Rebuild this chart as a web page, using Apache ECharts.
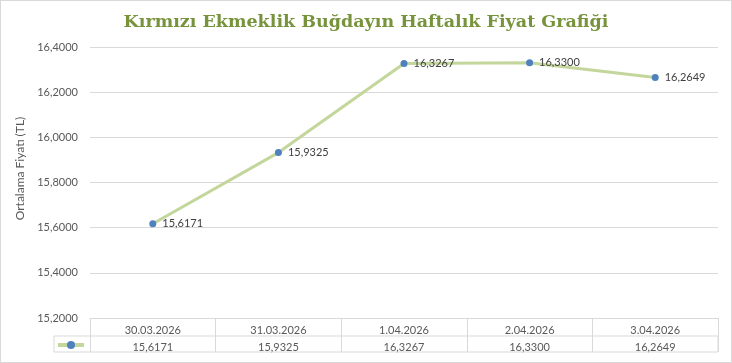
<!DOCTYPE html>
<html><head><meta charset="utf-8">
<script src="https://cdn.jsdelivr.net/npm/echarts@6/dist/echarts.min.js"></script>
<style>html,body{margin:0;padding:0;background:#fff}
#c{width:732px;height:363px;box-sizing:border-box;border:1px solid #d9d9d9;}</style>
</head><body><div id="c"></div>
<script>
const categories = ['30.03.2026','31.03.2026','1.04.2026','2.04.2026','3.04.2026'];
const prices = [15.6171, 15.9325, 16.3267, 16.3300, 16.2649];
const seriesName = 'Ortalama Fiyat';
const fmt = v => v.toFixed(4).replace('.', ',');
const font = 'Lato, "Open Sans", sans-serif';
const chart = echarts.init(document.getElementById('c'), null, {renderer:'canvas'});
chart.setOption({
  animation:false,
  title:{text:'Kırmızı Ekmeklik Buğdayın Haftalık Fiyat Grafiği', left:'center', top:7,
    textStyle:{fontFamily:'"DejaVu Serif", serif', fontWeight:'bold', fontSize:17.5, color:'#77933c'}},
  legend:{data:[seriesName], left:51, top:336, itemWidth:26, itemHeight:10, formatter:()=>'', itemGap:0, padding:[3,4],
    lineStyle:{width:4}},
  grid:[
    {left:89, right:13, top:46, bottom:44},
    {left:53, right:13, top:335, height:16, show:true, borderColor:'#d9d9d9', borderWidth:1, backgroundColor:'transparent'}
  ],
  xAxis:[
    {type:'category', data:categories, gridIndex:0, boundaryGap:true,
     axisLine:{lineStyle:{color:'#d9d9d9'}},
     axisTick:{show:true, length:34, lineStyle:{color:'#d9d9d9'}},
     axisLabel:{margin:4, interval:0, formatter:(v,i)=>'{c|'+v+'}\n{v|'+fmt(prices[i])+'}',
       rich:{c:{fontFamily:font, fontSize:11, color:'#595959', lineHeight:17},
             v:{fontFamily:font, fontSize:11, color:'#595959', lineHeight:17}}}},
    {type:'category', data:[''], gridIndex:1, show:false}
  ],
  yAxis:[
    {type:'value', min:15.2, max:16.4, interval:0.2, gridIndex:0,
     name:'Ortalama Fiyatı (TL)', nameLocation:'middle', nameGap:61,
     nameTextStyle:{fontFamily:font, fontSize:12, color:'#595959', padding:[0,0,0,28]},
     axisLine:{show:false}, axisTick:{show:false},
     axisLabel:{formatter:v=>fmt(v), fontFamily:font, fontSize:11, color:'#595959', margin:12},
     splitLine:{lineStyle:{color:'#d9d9d9'}}},
    {type:'value', gridIndex:1, show:false}
  ],
  series:[{
    name:seriesName, type:'line', data:prices, xAxisIndex:0, yAxisIndex:0,
    symbol:'circle', symbolSize:7,
    lineStyle:{color:'#c3d69b', width:3},
    itemStyle:{color:'#4f81bd'},
    label:{show:true, position:'right', distance:6, formatter:p=>fmt(p.value),
      fontFamily:font, fontSize:11, color:'#404040'}
  }]
});
</script></body></html>
